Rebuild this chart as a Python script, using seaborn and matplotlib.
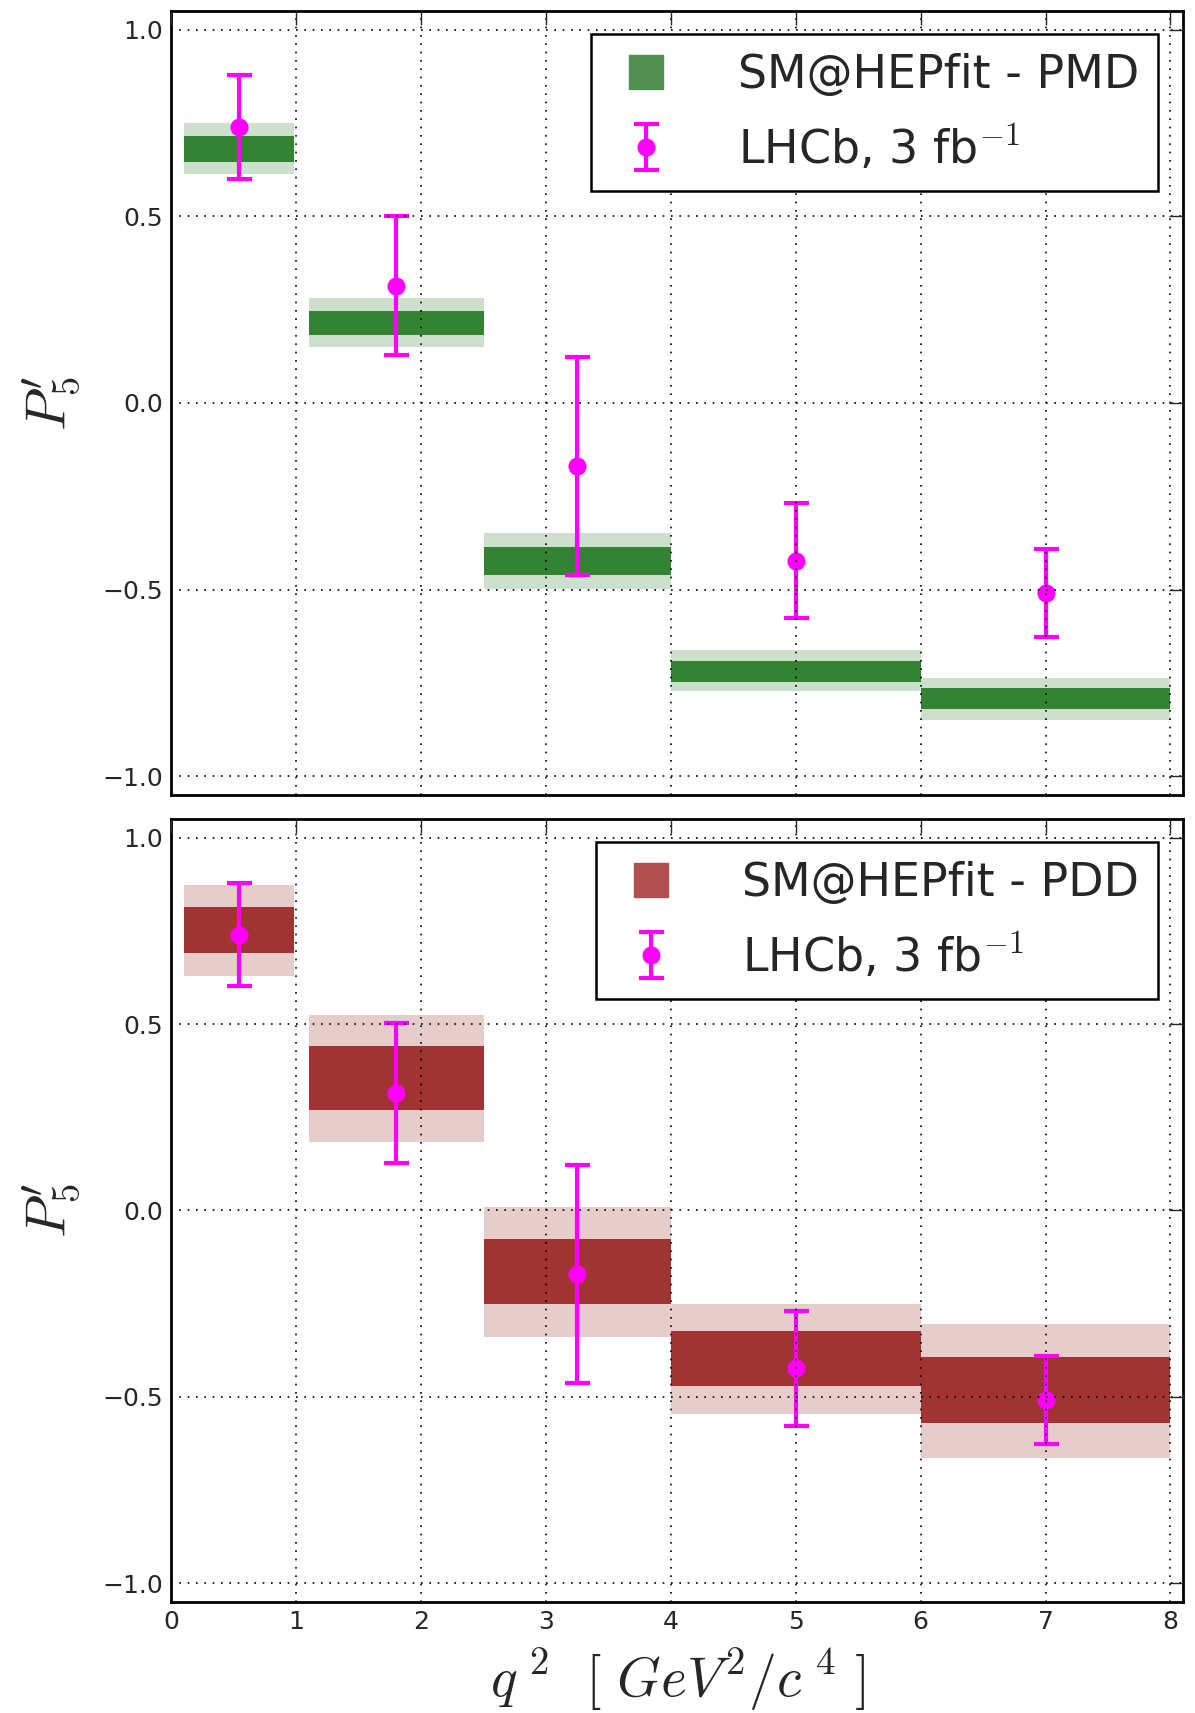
import numpy as np
import matplotlib
matplotlib.use("Agg")
import matplotlib.pyplot as plt
import seaborn as sns
from matplotlib.lines import Line2D
from matplotlib.legend_handler import HandlerTuple

# q^2 bins [GeV^2/c^4]
bins_lo = [0.1, 1.1, 2.5, 4.0, 6.0]
bins_hi = [0.98, 2.5, 4.0, 6.0, 8.0]

# LHCb 3 fb^-1 measurement
lhcb_x = [0.54, 1.8, 3.25, 5.0, 7.0]
lhcb_y = [0.738, 0.314, -0.170, -0.423, -0.509]
lhcb_up = [0.878, 0.502, 0.123, -0.269, -0.391]
lhcb_lo = [0.601, 0.128, -0.462, -0.577, -0.627]

# SM@HEPfit - PMD (1 sigma / 2 sigma bands)
pmd_1s_lo = [0.646, 0.181, -0.462, -0.746, -0.819]
pmd_1s_hi = [0.716, 0.247, -0.385, -0.690, -0.763]
pmd_2s_lo = [0.613, 0.149, -0.498, -0.772, -0.848]
pmd_2s_hi = [0.751, 0.282, -0.348, -0.661, -0.736]

# SM@HEPfit - PDD
pdd_1s_lo = [0.690, 0.270, -0.252, -0.470, -0.571]
pdd_1s_hi = [0.813, 0.442, -0.076, -0.322, -0.392]
pdd_2s_lo = [0.629, 0.185, -0.340, -0.545, -0.663]
pdd_2s_hi = [0.872, 0.524, 0.009, -0.250, -0.304]

sns.set_style("white")
plt.rcParams["font.family"] = ["DejaVu Sans"]
plt.rcParams["mathtext.fontset"] = "cm"


def draw_panel(ax, lo1, hi1, lo2, hi2, color, label, legend_color):
    lo = np.array(bins_lo)
    w = np.array(bins_hi) - lo
    ax.bar(lo, np.array(hi2) - np.array(lo2), bottom=lo2, width=w, align="edge",
           color=color, alpha=0.2, linewidth=0)
    ax.bar(lo, np.array(hi1) - np.array(lo1), bottom=lo1, width=w, align="edge",
           color=color, alpha=0.75, linewidth=0)

    y = np.array(lhcb_y)
    yerr = [y - np.array(lhcb_lo), np.array(lhcb_up) - y]
    eb = ax.errorbar(lhcb_x, y, yerr=yerr, fmt="none", ecolor="magenta",
                     elinewidth=3, capsize=9, capthick=3, zorder=2)
    sns.scatterplot(x=lhcb_x, y=lhcb_y, ax=ax, color="magenta", s=170,
                    linewidth=0, zorder=2)
    pt = Line2D([], [], color="magenta", marker="o", ms=12, ls="none")

    ax.set_xlim(0, 8.1)
    ax.set_ylim(-1.05, 1.05)
    ax.set_yticks([-1.0, -0.5, 0.0, 0.5, 1.0])
    ax.set_yticklabels(["\u22121.0", "\u22120.5", "0.0", "0.5", "1.0"])
    ax.set_xticks(range(0, 9))
    ax.set_axisbelow(False)
    ax.grid(True, color="black", linestyle=(0, (1, 4)), linewidth=1.2)
    ax.tick_params(direction="in", length=10, width=1, top=True, right=True,
                   labelsize=18, pad=6)
    for sp in ax.spines.values():
        sp.set_linewidth(2)
        sp.set_color("black")
    ax.set_ylabel(r"$P_5'$", fontsize=40, labelpad=14)

    sq = Line2D([], [], color=legend_color, marker="s", ms=24, ls="none")
    leg = ax.legend([sq, (eb, pt)], [label, r"LHCb, 3 fb$^{-1}$"],
                    handler_map={tuple: HandlerTuple(ndivide=1)},
                    loc="upper right", bbox_to_anchor=(0.975, 0.97),
                    borderaxespad=0, fontsize=33, frameon=True, fancybox=False,
                    framealpha=1, edgecolor="black", handlelength=1.6,
                    handletextpad=1.2, borderpad=0.4, labelspacing=0.55)
    leg.get_frame().set_linewidth(1.8)


fig = plt.figure(figsize=(11.95, 17.13), dpi=100)
ax1 = fig.add_axes([0.1435, 0.5359, 0.8464, 0.4577])
ax2 = fig.add_axes([0.1435, 0.0648, 0.8464, 0.4571], sharex=ax1)

draw_panel(ax1, pmd_1s_lo, pmd_1s_hi, pmd_2s_lo, pmd_2s_hi, "darkgreen",
           "SM@HEPfit - PMD", "#4f8f4f")
draw_panel(ax2, pdd_1s_lo, pdd_1s_hi, pdd_2s_lo, pdd_2s_hi, "darkred",
           "SM@HEPfit - PDD", "#b05050")

ax1.tick_params(labelbottom=False)
ax2.set_xlabel(r"$q^{\ 2}\ \ [\ GeV^{2}/c^{\ 4}\ ]$", fontsize=40, labelpad=9)

fig.savefig("out.png", dpi=100)
